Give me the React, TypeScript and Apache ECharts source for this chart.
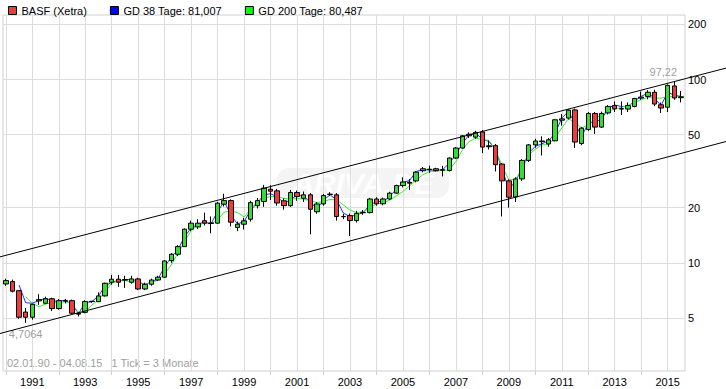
import React, { useEffect, useRef } from 'react';
import * as echarts from 'echarts';

// ---- data (quarterly candles from Q1 1990, prices in EUR) ----
const startYear = 1990;
const opens = [
  7.67, 7.9, 7.05, 5.39, 5.05, 6.2, 6.02, 6.37, 5.63, 6.22, 6.22, 5.3,
  5.37, 6.15, 6.14, 6.6, 7.84, 8.14, 8.1, 7.84, 8.17, 7.2, 7.64, 8.06,
  8.35, 10.28, 11.14, 12.26, 15.26, 15.7, 16.98, 16.5, 16.46, 20.9, 21.85, 15.6,
  16.24, 17.3, 20.5, 21.6, 25.2, 24.7, 21.8, 20.5, 24.2, 22.5, 23.5, 19.0,
  20.96, 23.7, 23.5, 17.9, 18.1, 17.0, 18.75, 18.8, 22.3, 21.0, 22.3, 24.0,
  26.4, 27.5, 28.0, 31.8, 32.4, 32.6, 32.0, 31.9, 37.3, 42.3, 49.3, 48.5,
  51.8, 43.5, 43.6, 34.6, 28.0, 22.9, 28.7, 36.2, 44.0, 46.2, 44.5, 46.3,
  60.0, 61.6, 68.3, 44.8, 53.3, 65.3, 55.0, 65.7, 72.1, 69.0, 69.0, 71.3,
  79.2, 80.9, 85.2, 72.8, 70.6, 92.2, 79.6,
];
const closes = [
  8.0, 7.0, 5.05, 5.05, 5.94, 6.3, 6.37, 5.63, 6.22, 6.18, 5.31, 5.25,
  6.15, 6.17, 6.6, 7.74, 8.14, 7.84, 8.05, 8.17, 7.2, 7.64, 8.06, 8.35,
  10.24, 11.14, 12.26, 15.26, 16.46, 16.46, 16.46, 16.4, 21.16, 21.85, 16.66, 16.24,
  16.95, 21.3, 21.85, 25.55, 24.6, 21.2, 20.5, 24.2, 23.0, 23.5, 19.6, 20.96,
  23.3, 23.6, 17.9, 17.85, 17.0, 18.6, 18.85, 22.3, 21.0, 22.3, 24.0, 26.4,
  27.6, 27.2, 31.25, 32.6, 32.2, 31.8, 32.2, 37.3, 42.3, 49.3, 50.3, 51.5,
  42.8, 43.0, 34.3, 28.0, 22.8, 28.7, 36.2, 44.0, 46.2, 45.8, 46.9, 60.3,
  61.0, 68.1, 45.6, 54.3, 65.3, 55.0, 65.3, 71.3, 69.2, 69.4, 72.2, 78.8,
  80.2, 85.2, 73.5, 69.9, 92.9, 79.3, 80.5,
];
const lows = [
  7.5, 6.9, 4.95, 4.7064, 4.9, 5.9, 5.95, 5.46, 5.55, 6.0, 5.25, 5.1,
  5.3, 6.05, 6.1, 6.55, 7.6, 7.4, 7.3, 7.7, 7.1, 7.1, 7.5, 7.95,
  8.3, 10.0, 10.9, 12.2, 14.9, 15.3, 16.0, 14.5, 16.3, 20.3, 15.8, 14.9,
  15.2, 16.8, 19.8, 20.2, 22.0, 20.5, 19.5, 20.2, 21.8, 21.5, 14.3, 18.5,
  20.5, 23.2, 17.0, 17.3, 14.0, 16.6, 18.3, 18.6, 20.5, 20.6, 22.0, 23.8,
  25.8, 25.0, 27.5, 31.2, 31.0, 31.5, 29.6, 31.5, 36.8, 42.0, 48.0, 47.5,
  39.7, 41.5, 31.5, 17.9, 20.0, 21.5, 28.0, 35.5, 42.5, 38.5, 43.0, 46.0,
  56.0, 60.5, 42.4, 43.8, 52.5, 50.5, 54.5, 64.5, 66.5, 64.0, 66.5, 70.5,
  77.5, 78.0, 71.5, 65.6, 66.5, 77.5, 75.0,
];
const highs = [
  8.2, 8.1, 7.1, 5.67, 6.0, 6.74, 6.54, 6.45, 6.35, 6.35, 6.3, 5.4,
  6.25, 6.2, 6.9, 7.8, 8.59, 8.59, 8.5, 8.5, 8.3, 7.8, 8.2, 8.5,
  10.3, 11.3, 12.5, 15.4, 17.0, 17.3, 18.8, 17.9, 21.5, 23.8, 22.2, 16.8,
  17.6, 21.8, 22.6, 26.6, 26.5, 25.3, 22.5, 25.0, 24.8, 24.5, 24.0, 21.5,
  23.8, 24.3, 24.0, 18.5, 18.6, 19.2, 19.4, 22.6, 22.8, 22.7, 24.4, 26.7,
  29.3, 28.6, 31.6, 33.3, 33.9, 33.0, 33.8, 37.6, 42.8, 49.8, 51.5, 52.5,
  53.0, 46.5, 44.5, 35.0, 28.5, 29.3, 36.8, 44.5, 47.5, 49.0, 48.0, 60.8,
  64.9, 68.8, 69.5, 55.0, 66.5, 66.5, 66.8, 72.5, 76.0, 76.0, 75.0, 79.5,
  86.0, 87.5, 88.0, 75.0, 94.0, 97.22, 86.5,
];
// moving averages read at each candle (null = not yet available)
const gd38 = [
  null, null, 7.57, 6.06, 6.02, 6.22, 6.41, 6.22, 6.14, 6.27, 5.89, 5.3,
  6.06, 6.14, 6.6, 7.48, 7.84, 8.0, 8.05, 8.17, 7.9, 7.57, 7.9, 8.17,
  9.53, 10.73, 11.76, 13.9, 15.46, 16.24, 16.7, 16.3, 19.05, 21.6, 18.25, 16.3,
  16.8, 19.4, 21.2, 23.5, 23.8, 23.0, 21.2, 22.0, 23.5, 23.0, 21.6, 19.6,
  22.0, 23.5, 22.0, 18.66, 17.9, 18.25, 18.8, 20.7, 21.6, 21.6, 23.0, 25.2,
  27.5, 28.1, 31.5, 32.2, 32.2, 31.9, 32.2, 35.0, 38.8, 45.0, 49.9, 51.0,
  47.3, 45.9, 41.4, 32.2, 25.2, 27.8, 32.9, 39.7, 43.2, 44.6, 46.3, 51.0,
  61.6, 67.0, 57.7, 48.9, 57.7, 58.9, 60.3, 69.9, 72.6, 71.3, 71.3, 76.5,
  80.9, 84.5, 79.2, 72.0, 85.6, 81.9, 81.007,
];
const gd200 = [
  null, null, null, 6.54, 6.02, 5.77, 5.96, 6.06, 6.06, 6.14, 6.02, 5.34,
  5.41, 5.89, 6.27, 6.96, 7.74, 7.96, 8.0, 7.9, 7.83, 7.67, 7.74, 8.06,
  8.7, 9.74, 11.28, 13.05, 14.99, 16.1, 16.45, 16.3, 17.15, 18.9, 19.2, 18.8,
  17.8, 19.6, 21.6, 22.5, 23.0, 23.0, 22.5, 22.2, 22.5, 22.2, 21.85, 21.3,
  21.6, 22.2, 22.0, 20.7, 19.4, 18.8, 19.0, 19.85, 21.0, 21.2, 22.0, 23.2,
  24.5, 26.3, 28.4, 30.2, 31.5, 31.7, 31.9, 32.2, 35.7, 41.4, 45.9, 47.9,
  47.0, 46.6, 41.4, 33.5, 28.4, 28.5, 32.2, 38.8, 41.7, 44.0, 44.1, 48.4,
  54.4, 61.0, 58.6, 54.4, 56.6, 61.0, 64.4, 67.0, 69.0, 70.5, 72.0, 75.0,
  77.6, 79.9, 79.2, 79.2, 80.9, 80.5, 80.487,
];
// trend channel lines: [decimal year, price]
const upperChannel = [[1989.781, 10.78], [2017.203, 115.4]];
const lowerChannel = [[1989.781, 4.116], [2017.203, 45.9]];

const yTickValues = [5, 10, 20, 50, 100, 200];
const yearGridValues = [1990, 1991, 1992, 1993, 1994, 1995, 1996, 1997, 1998, 1999, 2000, 2001, 2002,
  2003, 2004, 2005, 2006, 2007, 2008, 2009, 2010, 2011, 2012, 2013, 2014, 2015];
const yearLabelValues = [1991, 1993, 1995, 1997, 1999, 2001, 2003, 2005, 2007, 2009, 2011, 2013, 2015];
const yearTickValues = [1990, 1992, 1994, 1996, 1998, 2000, 2002, 2004, 2006, 2008, 2010, 2012, 2014];
const xRange = [1989.894, 2015.654];
const yRange = [2.57, 224.9];
const legendNames = ['BASF (Xetra)', 'GD 38 Tage: 81,007', 'GD 200 Tage: 80,487'];
const rangeText = '02.01.90 - 04.08.15   1 Tick = 3 Monate';
const watermarkText = 'ARIVA.DE';

const FONT = "'Liberation Sans', Arial, Helvetica, sans-serif";
const RED = '#ee3b3b';
const GREEN = '#33dd33';

export default function App() {
  const ref = useRef<HTMLDivElement>(null);

  useEffect(() => {
    if (!ref.current) return;
    const chart = echarts.init(ref.current, null, { renderer: 'svg' });
    const lg = (v: number) => Math.log10(v);
    const xOf = (i: number) => startYear + i / 4;
    const fmt = (v: number) => String(v).replace('.', ',');

    const candleData = opens.map((o, i) => [xOf(i), lg(o), lg(closes[i]), lg(lows[i]), lg(highs[i])]);
    const lineData = (arr: (number | null)[]) =>
      arr.map((v, i) => (v == null ? null : [xOf(i), lg(v)])).filter((p) => p != null);

    let minIdx = 0;
    let maxIdx = 0;
    lows.forEach((v, i) => { if (v < lows[minIdx]) minIdx = i; });
    highs.forEach((v, i) => { if (v > highs[maxIdx]) maxIdx = i; });

    const baseGraphics: any[] = [
      {
        type: 'group', left: 277, top: 168, z: -10, silent: true,
        children: [
          { type: 'rect', z: -10, shape: { x: 0, y: 0, width: 172, height: 30, r: 12 }, style: { fill: '#f4f4f4' } },
          {
            type: 'text', z: -9, x: 86, y: 15,
            style: {
              text: watermarkText, align: 'center', verticalAlign: 'middle', fill: '#ffffff',
              fontSize: 30, fontWeight: 'bold', fontStyle: 'italic', fontFamily: FONT,
            },
          },
        ],
      },
      {
        type: 'text', left: 7, top: 357, silent: true,
        style: { text: rangeText, fill: '#a0a0a0', fontSize: 11, fontFamily: FONT },
      },
    ];

    const option: any = {
      animation: false,
      textStyle: { fontFamily: FONT },
      grid: {
        left: 3, right: 41, top: 15, bottom: 18, show: true,
        borderColor: '#d0d0d0', borderWidth: 1, backgroundColor: 'transparent',
      },
      legend: {
        left: 3, top: 0, itemWidth: 8, itemHeight: 8, itemGap: 23, icon: 'rect',
        selectedMode: false,
        textStyle: { fontSize: 11, color: '#000', fontFamily: FONT },
        data: [
          { name: legendNames[0], itemStyle: { color: RED, borderColor: '#000', borderWidth: 1 } },
          { name: legendNames[1], itemStyle: { color: '#0000ff', borderColor: '#000', borderWidth: 1 } },
          { name: legendNames[2], itemStyle: { color: '#00ff00', borderColor: '#000', borderWidth: 1 } },
        ],
      },
      xAxis: [
        {
          type: 'value', min: xRange[0], max: xRange[1],
          axisLine: { show: false },
          axisTick: { show: false, customValues: yearGridValues },
          splitLine: { show: true, lineStyle: { color: '#dcdcdc', width: 1 } },
          axisLabel: {
            customValues: yearLabelValues, formatter: (v: number) => String(v),
            fontSize: 11, color: '#000', margin: 5, fontFamily: FONT,
          },
        },
        {
          type: 'value', min: xRange[0], max: xRange[1], position: 'bottom',
          axisLine: { show: false },
          axisTick: { show: true, customValues: yearTickValues, length: 4, lineStyle: { color: '#d0d0d0' } },
          splitLine: { show: false },
          axisLabel: { show: false },
        },
      ],
      yAxis: {
        type: 'value', position: 'right', min: lg(yRange[0]), max: lg(yRange[1]),
        axisLine: { show: false },
        axisTick: { show: false, customValues: yTickValues.map(lg) },
        splitLine: { show: true, lineStyle: { color: '#dcdcdc', width: 1 } },
        axisLabel: {
          customValues: yTickValues.map(lg),
          formatter: (v: number) => String(Math.round(Math.pow(10, v))),
          fontSize: 11, color: '#000', margin: 3, fontFamily: FONT,
        },
      },
      graphic: baseGraphics,
      series: [
        {
          type: 'line', name: legendNames[1], data: lineData(gd38), symbol: 'none', showSymbol: false,
          color: '#0000ff', lineStyle: { color: '#2a2aff', width: 1 }, z: 2, silent: true,
        },
        {
          type: 'line', name: legendNames[2], data: lineData(gd200), symbol: 'none', showSymbol: false,
          color: '#00ff00', lineStyle: { color: '#33ee33', width: 1 }, z: 2, silent: true,
        },
        {
          type: 'candlestick', name: legendNames[0], data: candleData,
          encode: { x: 0, y: [1, 2, 3, 4] },
          barWidth: 5, z: 3, silent: true,
          itemStyle: {
            color: GREEN, color0: RED, borderColor: '#000', borderColor0: '#000',
            borderColorDoji: '#000', borderWidth: 1,
          },
          markPoint: {
            symbol: 'circle', symbolSize: 0, silent: true,
            label: { show: true, color: '#a0a0a0', fontSize: 11, fontFamily: FONT },
            data: [
              { coord: [xOf(minIdx), lg(lows[minIdx])], label: { formatter: fmt(lows[minIdx]), offset: [0, 11] } },
              { coord: [xOf(maxIdx), lg(highs[maxIdx])], label: { formatter: fmt(highs[maxIdx]), offset: [-11, -10] } },
            ],
          },
        },
      ],
    };
    chart.setOption(option);

    // trend channel lines run across the full width, beyond the plot area:
    // positioned through the chart's own scales
    const toPx = (p: number[]) =>
      chart.convertToPixel({ xAxisIndex: 0, yAxisIndex: 0 } as any, [p[0], lg(p[1])]) as number[];
    const channelLine = (pts: number[][]) => {
      const a = toPx(pts[0]);
      const b = toPx(pts[1]);
      return {
        type: 'line', z: 20, silent: true,
        shape: { x1: a[0], y1: a[1], x2: b[0], y2: b[1] },
        style: { stroke: '#000', lineWidth: 1 },
      };
    };
    chart.setOption({ graphic: [...baseGraphics, channelLine(upperChannel), channelLine(lowerChannel)] });

    return () => chart.dispose();
  }, []);

  return <div ref={ref} style={{ position: 'absolute', left: 0, top: 0, width: 726, height: 389 }} />;
}
